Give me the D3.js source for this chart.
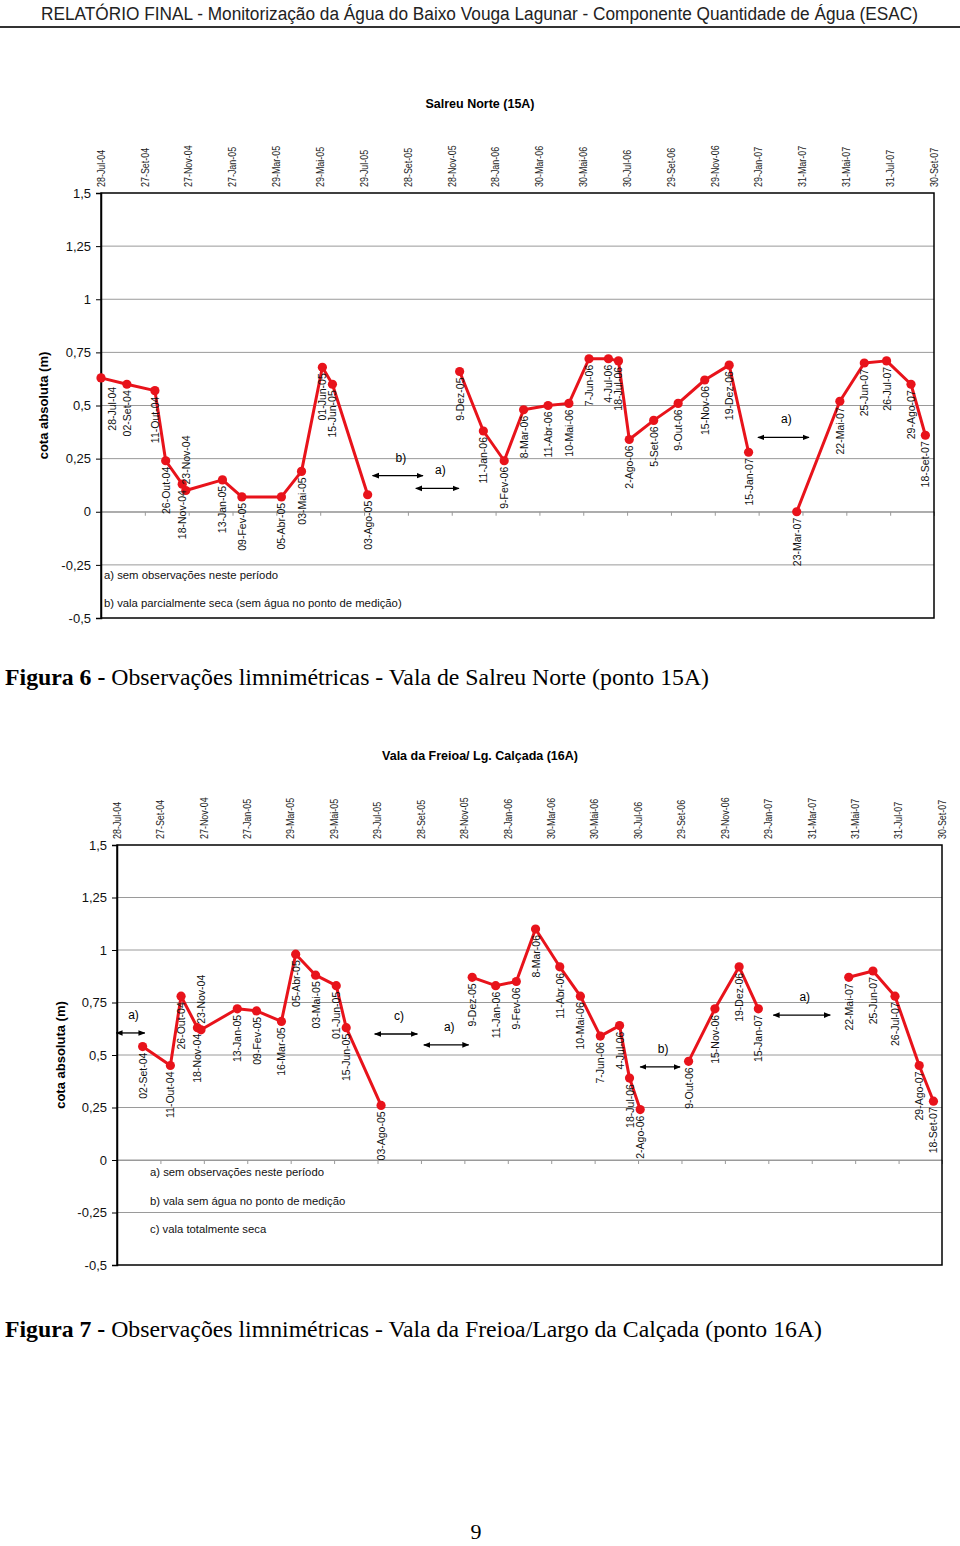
<!DOCTYPE html>
<html><head><meta charset="utf-8">
<script src="https://cdn.jsdelivr.net/npm/d3@7"></script>
<style>body{margin:0;background:#fff}svg{display:block}</style>
</head><body>
<script>
// ---------- data ----------
const monthsPT = ["Jan","Fev","Mar","Abr","Mai","Jun","Jul","Ago","Set","Out","Nov","Dez"];
const yTicks = [1.5, 1.25, 1, 0.75, 0.5, 0.25, 0, -0.25, -0.5];
const xTickLabels = ["28-Jul-04","27-Set-04","27-Nov-04","27-Jan-05","29-Mar-05","29-Mai-05","29-Jul-05","28-Set-05","28-Nov-05","28-Jan-06","30-Mar-06","30-Mai-06","30-Jul-06","29-Set-06","29-Nov-06","29-Jan-07","31-Mar-07","31-Mai-07","31-Jul-07","30-Set-07"];

// Salreu Norte (15A)
const dates15 = ["28-Jul-04","02-Set-04","11-Out-04","26-Out-04","18-Nov-04","23-Nov-04","13-Jan-05","09-Fev-05","05-Abr-05","03-Mai-05","01-Jun-05","15-Jun-05","03-Ago-05","9-Dez-05","11-Jan-06","9-Fev-06","8-Mar-06","11-Abr-06","10-Mai-06","7-Jun-06","4-Jul-06","18-Jul-06","2-Ago-06","5-Set-06","9-Out-06","15-Nov-06","19-Dez-06","15-Jan-07","23-Mar-07","22-Mai-07","25-Jun-07","26-Jul-07","29-Ago-07","18-Set-07"];
const values15 = [0.63,0.60,0.57,0.24,0.13,0.10,0.15,0.07,0.07,0.19,0.68,0.60,0.08,0.66,0.38,0.24,0.48,0.50,0.51,0.72,0.72,0.71,0.34,0.43,0.51,0.62,0.69,0.28,0.00,0.52,0.70,0.71,0.60,0.36];
const labelSide15 = ["br","b","b","b","b","a","b","b","b","b","b","b","b","b","b","b","b","b","b","b","b","b","b","b","b","b","b","b","b","b","b","b","b","b"];
const breaksAfter15 = ["03-Ago-05","15-Jan-07"];
const arrowText15 = ["b)","a)","a)"];
const arrowFrom15 = ["10-Ago-05","09-Out-05","28-Jan-07"];
const arrowTo15 = ["19-Out-05","08-Dez-05","09-Abr-07"];
const arrowLevel15 = [0.17,0.11,0.35];
const notes15 = ["a) sem observações neste período","b) vala parcialmente seca (sem água  no ponto de medição)"];

// Vala da Freioa / Lg. Calçada (16A)
const dates16 = ["02-Set-04","11-Out-04","26-Out-04","18-Nov-04","23-Nov-04","13-Jan-05","09-Fev-05","16-Mar-05","05-Abr-05","03-Mai-05","01-Jun-05","15-Jun-05","03-Ago-05","9-Dez-05","11-Jan-06","9-Fev-06","8-Mar-06","11-Abr-06","10-Mai-06","7-Jun-06","4-Jul-06","18-Jul-06","2-Ago-06","9-Out-06","15-Nov-06","19-Dez-06","15-Jan-07","22-Mai-07","25-Jun-07","26-Jul-07","29-Ago-07","18-Set-07"];
const values16 = [0.54,0.45,0.78,0.63,0.62,0.72,0.71,0.66,0.98,0.88,0.83,0.63,0.26,0.87,0.83,0.85,1.10,0.92,0.78,0.59,0.64,0.39,0.24,0.47,0.72,0.92,0.72,0.87,0.90,0.78,0.45,0.28];
const labelSide16 = ["b","b","b","b","a","b","b","b","b","b","b","b","b","b","b","b","b","b","b","b","b","b","b","b","b","b","b","b","b","b","b","b"];
const breaksAfter16 = ["03-Ago-05","2-Ago-06","15-Jan-07"];
const arrowText16 = ["a)","c)","a)","b)","a)"];
const arrowFrom16 = ["27-Jul-04","25-Jul-05","02-Out-05","02-Ago-06","05-Fev-07"];
const arrowTo16 = ["05-Set-04","23-Set-05","04-Dez-05","27-Set-06","26-Abr-07"];
const arrowLevel16 = [0.605,0.60,0.548,0.443,0.69];
const notes16 = ["a) sem observações neste período","b) vala sem água no ponto de medição","c) vala totalmente seca"];

// ---------- helpers ----------
function parseD(s){ const p=s.split("-"); return new Date(2000 + (+p[2]), monthsPT.indexOf(p[1]), +p[0]); }
const fmtY = v => String(v).replace(".", ",");
const RED = "#e8131b";
const SANS = "Arial, 'Liberation Sans', Helvetica, sans-serif";
const SERIF = "'Times New Roman', 'Liberation Serif', serif";

const svg = d3.select("body").append("svg").attr("width",960).attr("height",1546)
  .attr("font-family", SANS);

const defs = svg.append("defs");
defs.append("marker").attr("id","ah").attr("viewBox","0 0 10 10").attr("refX",9).attr("refY",5)
  .attr("markerWidth",7).attr("markerHeight",7).attr("markerUnits","userSpaceOnUse")
  .attr("orient","auto-start-reverse")
  .append("path").attr("d","M0,1 L10,5 L0,9 Z").attr("fill","#000");

// header
svg.append("text").attr("x",41).attr("y",20).attr("font-size",18).attr("fill","#222")
  .attr("textLength",877).attr("lengthAdjust","spacingAndGlyphs")
  .text("RELATÓRIO FINAL - Monitorização da Água do Baixo Vouga Lagunar - Componente Quantidade de Água (ESAC)");
svg.append("line").attr("x1",0).attr("x2",960).attr("y1",27).attr("y2",27).attr("stroke","#333").attr("stroke-width",2);

function drawChart(cfg){
  const g = svg.append("g");
  const {left,right,top,bottom} = cfg;
  const x = d3.scaleTime().domain([parseD(xTickLabels[0]), parseD(xTickLabels[xTickLabels.length-1])]).range([left,right]);
  const y = d3.scaleLinear().domain([-0.5,1.5]).range([bottom,top]);

  // title
  g.append("text").attr("x",480).attr("y",cfg.titleY).attr("text-anchor","middle")
    .attr("font-size",12.5).attr("font-weight","bold").text(cfg.title);

  // gridlines
  g.append("g").selectAll("line").data(yTicks.filter(v=>v<1.5 && v>-0.5)).join("line")
    .attr("x1",left).attr("x2",right).attr("y1",d=>y(d)).attr("y2",d=>y(d))
    .attr("stroke","#9a9a9a").attr("stroke-width",1);

  // x axis at y=0 with downward ticks
  const xa = g.append("g").attr("transform",`translate(0,${y(0)})`)
    .call(d3.axisBottom(x).tickValues(xTickLabels.map(parseD)).tickSize(4).tickFormat(""));
  xa.select(".domain").attr("stroke","#9a9a9a");
  xa.selectAll(".tick line").attr("stroke","#9a9a9a");

  // top tick labels (rotated)
  g.append("g").selectAll("text").data(xTickLabels).join("text")
    .attr("transform",d=>`translate(${x(parseD(d))},${top-6}) rotate(-90) scale(0.85,1)`)
    .attr("text-anchor","start").attr("dominant-baseline","central")
    .attr("font-size",10.5).attr("fill","#222").text(d=>d);

  // border
  g.append("rect").attr("x",left).attr("y",top).attr("width",right-left).attr("height",bottom-top)
    .attr("fill","none").attr("stroke","#000").attr("stroke-width",1.5);

  // y axis
  const ya = g.append("g").attr("transform",`translate(${left},0)`)
    .call(d3.axisLeft(y).tickValues(yTicks).tickSize(5).tickPadding(5).tickFormat(fmtY));
  ya.select(".domain").attr("stroke","#000").attr("stroke-width",1.5);
  ya.selectAll(".tick line").attr("stroke","#000");
  ya.selectAll(".tick text").attr("font-size",13).attr("font-family",SANS).attr("fill","#111");

  // y axis title
  g.append("text").attr("transform",`translate(${cfg.yTitleX},${(top+bottom)/2}) rotate(-90)`)
    .attr("text-anchor","middle").attr("font-size",13).attr("font-weight","bold").text("cota absoluta (m)");

  // data
  const pts = cfg.dates.map((d,i)=>({d, t:parseD(d), v:cfg.values[i], side:cfg.sides[i]}));
  const segs = [[]];
  pts.forEach(p=>{ segs[segs.length-1].push(p); if(cfg.breaks.includes(p.d)) segs.push([]); });
  const line = d3.line().x(p=>x(p.t)).y(p=>y(p.v));
  g.append("g").selectAll("path").data(segs.filter(s=>s.length)).join("path")
    .attr("d",line).attr("fill","none").attr("stroke",RED).attr("stroke-width",3).attr("stroke-linejoin","round");
  g.append("g").selectAll("circle").data(pts).join("circle")
    .attr("cx",p=>x(p.t)).attr("cy",p=>y(p.v)).attr("r",4.6).attr("fill",RED);

  // point labels
  g.append("g").selectAll("text").data(pts).join("text")
    .attr("transform",p=>{
      const px=x(p.t), py=y(p.v);
      if(p.side==="a") return `translate(${px},${py-6}) rotate(-90)`;
      if(p.side==="br") return `translate(${px+11},${py+9}) rotate(-90)`;
      return `translate(${px},${py+6}) rotate(-90)`;
    })
    .attr("text-anchor",p=>p.side==="a"?"start":"end").attr("dominant-baseline","central")
    .attr("font-size",10.5).attr("fill","#111").text(p=>p.d);

  // arrows
  cfg.arrowText.forEach((t,i)=>{
    const x1=x(parseD(cfg.arrowFrom[i])), x2=x(parseD(cfg.arrowTo[i])), yy=y(cfg.arrowLevel[i]);
    g.append("line").attr("x1",x1).attr("x2",x2).attr("y1",yy).attr("y2",yy)
      .attr("stroke","#000").attr("stroke-width",1.3)
      .attr("marker-start","url(#ah)").attr("marker-end","url(#ah)");
    g.append("text").attr("x",(x1+x2)/2+3).attr("y",yy-18).attr("text-anchor","middle")
      .attr("dominant-baseline","central").attr("font-size",12).text(t);
  });

  // notes
  cfg.notes.forEach((n,i)=>{
    g.append("text").attr("x",cfg.noteX).attr("y",cfg.noteY+i*cfg.noteStep).attr("dominant-baseline","central")
      .attr("font-size",11.3).attr("fill","#111").text(n);
  });

  // caption
  const cap = svg.append("text").attr("x",5).attr("y",cfg.capY).attr("font-family",SERIF).attr("font-size",22.5)
    .attr("textLength",cfg.capLen).attr("lengthAdjust","spacingAndGlyphs");
  cap.append("tspan").attr("font-weight","bold").text(cfg.capBold);
  cap.append("tspan").text(cfg.capText);
}

drawChart({left:101,right:934,top:193,bottom:618,titleY:108,yTitleX:48,title:"Salreu Norte (15A)",
  dates:dates15,values:values15,sides:labelSide15,breaks:breaksAfter15,
  arrowText:arrowText15,arrowFrom:arrowFrom15,arrowTo:arrowTo15,arrowLevel:arrowLevel15,
  notes:notes15,noteX:104,noteY:575,noteStep:28,
  capY:685,capLen:704,capBold:"Figura 6 - ",capText:"Observações limnimétricas - Vala de Salreu Norte (ponto 15A)"});

drawChart({left:117,right:942,top:845,bottom:1265,titleY:760,yTitleX:65,title:"Vala da Freioa/ Lg. Calçada (16A)",
  dates:dates16,values:values16,sides:labelSide16,breaks:breaksAfter16,
  arrowText:arrowText16,arrowFrom:arrowFrom16,arrowTo:arrowTo16,arrowLevel:arrowLevel16,
  notes:notes16,noteX:150,noteY:1172,noteStep:28.5,
  capY:1337,capLen:817,capBold:"Figura 7 - ",capText:"Observações limnimétricas - Vala da Freioa/Largo da Calçada (ponto 16A)"});

// page number
svg.append("text").attr("x",476).attr("y",1539).attr("text-anchor","middle").attr("font-family",SERIF)
  .attr("font-size",22).text("9");
</script>
</body></html>
